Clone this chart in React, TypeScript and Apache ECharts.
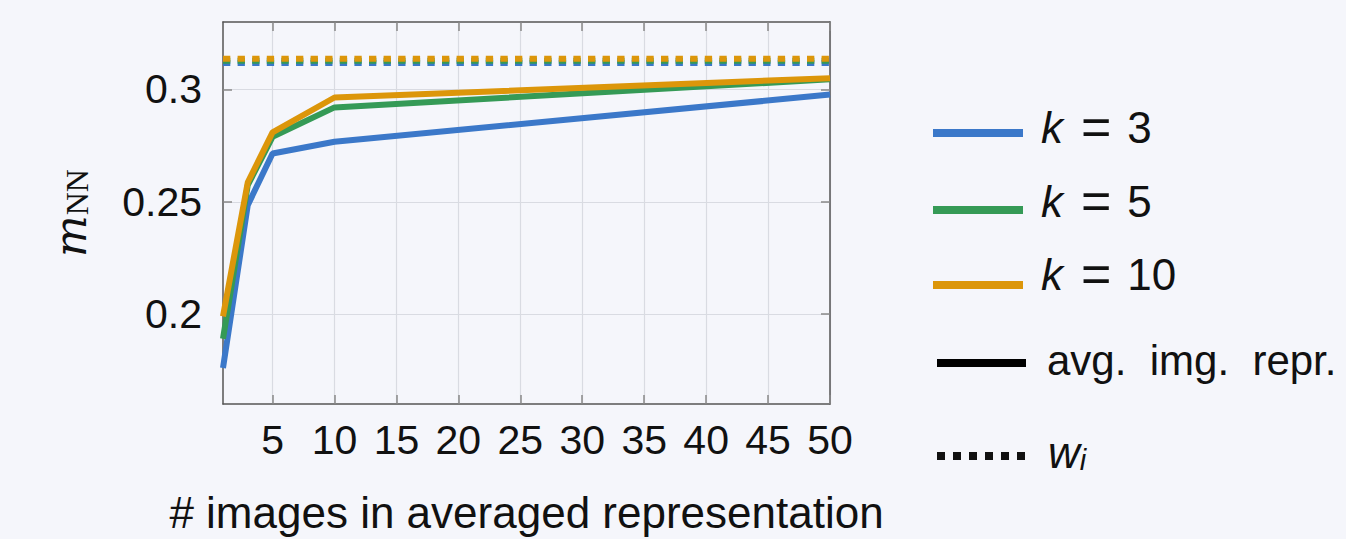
import React, { useEffect, useRef } from "react";
import * as echarts from "echarts";

const xValues = [1, 3, 5, 10, 50];
const k3Values = [0.176, 0.2485, 0.2715, 0.2767, 0.2977];
const k5Values = [0.189, 0.2574, 0.2789, 0.292, 0.3045];
const k10Values = [0.199, 0.2587, 0.2809, 0.2964, 0.305];
const wiK3 = 0.3118;
const wiK5 = 0.3127;
const wiK10 = 0.3136;
const xTicks = [5, 10, 15, 20, 25, 30, 35, 40, 45, 50];
const yTicks = [0.2, 0.25, 0.3];
const seriesNames = ["k = 3", "k = 5", "k = 10"];

const BLUE = "#3b78c9";
const GREEN = "#359a56";
const ORANGE = "#dc960a";
const BG = "#f5f6fb";
const FONT = "Liberation Sans";

export default function App() {
  const ref = useRef<HTMLDivElement>(null);
  useEffect(() => {
    const chart = echarts.init(ref.current!, null, { renderer: "svg" });
    const pts = (vals: number[]) => xValues.map((x, i) => [x, vals[i]]);
    const flat = (v: number) => [[1, v], [50, v]];
    const axisLine = { show: true, lineStyle: { color: "#555", width: 1.5 } };
    const tickStyle = { lineStyle: { color: "#888", width: 1.5 } };

    const solid = (name: string, vals: number[], color: string) => ({
      name,
      type: "line",
      data: pts(vals),
      symbol: "none",
      lineStyle: { color, width: 6 },
      itemStyle: { color },
      z: 3,
    });
    const dotted = (name: string, v: number, color: string) => ({
      name,
      type: "line",
      data: flat(v),
      symbol: "none",
      lineStyle: { color, width: 6, type: [7.3, 7.3], cap: "butt" },
      itemStyle: { color },
      z: 2,
    });

    const legendRows = [
      { y: 133, ty: 127, color: BLUE, n: "3" },
      { y: 210, ty: 201, color: GREEN, n: "5" },
      { y: 285, ty: 274, color: ORANGE, n: "10" },
    ];
    const graphic: any[] = [];
    legendRows.forEach((r) => {
      graphic.push({
        type: "line",
        shape: { x1: 933, y1: r.y, x2: 1023, y2: r.y },
        style: { stroke: r.color, lineWidth: 8 },
      });
      graphic.push({
        type: "text",
        x: 1041,
        y: r.ty,
        style: {
          text: "{k|k}{eq|=}{n|" + r.n + "}",
          verticalAlign: "middle",
          align: "left",
          fill: "#111",
          rich: {
            k: { fontFamily: FONT, fontSize: 44, fontStyle: "italic", fill: "#111" },
            eq: { fontFamily: FONT, fontSize: 52, fill: "#111", padding: [0, 16, 0, 18] },
            n: { fontFamily: FONT, fontSize: 44, fill: "#111" },
          },
        },
      });
    });
    graphic.push({
      type: "line",
      shape: { x1: 937, y1: 363, x2: 1026, y2: 363 },
      style: { stroke: "#000", lineWidth: 8 },
    });
    graphic.push({
      type: "text",
      x: 1047,
      y: 360,
      style: {
        text: "avg.  img.  repr.",
        fontFamily: FONT,
        fontSize: 42,
        fill: "#111",
        verticalAlign: "middle",
        align: "left",
      },
    });
    graphic.push({
      type: "line",
      shape: { x1: 937, y1: 456, x2: 1026, y2: 456 },
      style: { stroke: "#111", lineWidth: 8, lineDash: [8, 8] },
    });
    graphic.push({
      type: "text",
      x: 1048,
      y: 452,
      style: {
        text: "{w|w}{i|i}",
        verticalAlign: "middle",
        align: "left",
        fill: "#111",
        rich: {
          w: { fontFamily: FONT, fontSize: 44, fontStyle: "italic", fill: "#111" },
          i: { fontFamily: FONT, fontSize: 29, fontStyle: "italic", fill: "#111", padding: [16, 0, 0, 0] },
        },
      },
    });
    // y-axis title
    graphic.push({
      type: "text",
      x: 70,
      y: 213,
      rotation: Math.PI / 2,
      style: {
        text: "{m|m}{nn|NN}",
        align: "center",
        verticalAlign: "middle",
        fill: "#111",
        rich: {
          m: { fontFamily: "DejaVu Serif", fontSize: 44, fontStyle: "italic", fill: "#111" },
          nn: { fontFamily: "Liberation Serif", fontSize: 32, fill: "#111", padding: [14, 0, 0, 0] },
        },
      },
    });

    const option: any = {
      animation: false,
      backgroundColor: BG,
      grid: { left: 223, top: 22, right: 516, bottom: 135 },
      xAxis: [
        {
          type: "value",
          min: 1,
          max: 50,
          position: "bottom",
          axisLine,
          axisTick: { show: true, inside: true, length: 9, customValues: xTicks, ...tickStyle },
          axisLabel: {
            customValues: xTicks,
            fontFamily: FONT,
            fontSize: 41,
            color: "#111",
            margin: 15,
          },
          splitLine: { show: true, lineStyle: { color: "#d9dbe2", width: 1.2 } },
          name: "# images in averaged representation",
          nameLocation: "middle",
          nameGap: 86,
          nameTextStyle: { fontFamily: FONT, fontSize: 44, color: "#111" },
        },
        {
          type: "value",
          min: 1,
          max: 50,
          position: "top",
          axisLine,
          axisTick: { show: true, inside: true, length: 9, customValues: xTicks, ...tickStyle },
          axisLabel: { show: false },
          splitLine: { show: false },
        },
      ],
      yAxis: [
        {
          type: "value",
          min: 0.16,
          max: 0.33,
          position: "left",
          axisLine,
          axisTick: { show: true, inside: true, length: 9, customValues: yTicks, ...tickStyle },
          axisLabel: {
            customValues: yTicks,
            fontFamily: FONT,
            fontSize: 41,
            color: "#111",
            margin: 21,
          },
          splitLine: { show: true, lineStyle: { color: "#d9dbe2", width: 1.2 } },
        },
        {
          type: "value",
          min: 0.16,
          max: 0.33,
          position: "right",
          axisLine,
          axisTick: { show: true, inside: true, length: 9, customValues: yTicks, ...tickStyle },
          axisLabel: { show: false },
          splitLine: { show: false },
        },
      ],
      series: [
        dotted(seriesNames[0] + " w_i", wiK3, BLUE),
        dotted(seriesNames[1] + " w_i", wiK5, GREEN),
        dotted(seriesNames[2] + " w_i", wiK10, ORANGE),
        solid(seriesNames[0], k3Values, BLUE),
        solid(seriesNames[1], k5Values, GREEN),
        solid(seriesNames[2], k10Values, ORANGE),
      ],
      graphic,
    };
    chart.setOption(option);
    return () => chart.dispose();
  }, []);
  return (
    <div
      ref={ref}
      style={{ position: "fixed", left: 0, top: 0, width: 1346, height: 539, background: BG }}
    />
  );
}
